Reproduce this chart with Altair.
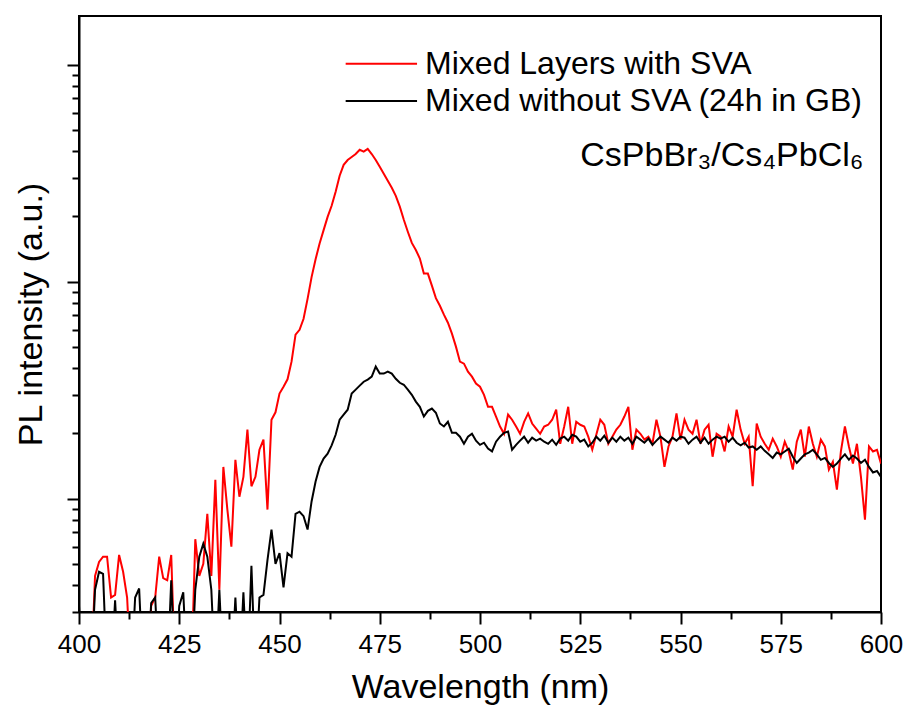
import altair as alt
import pandas as pd

# ---------------- data ----------------
wavelength = list(range(400, 601))

series_names = ["Mixed Layers with SVA", "Mixed without SVA (24h in GB)"]
series_colors = ["#ff0000", "#000000"]

red_sva = [
    1.5, 1.5, 1.5, 1.5, 4.4, 5.1, 5.4, 5.4, 3.5, 3.6,
    5.5, 4.6, 3.5, 1.5, 1.5, 1.5, 1.5, 1.5, 3.2, 3.5,
    5.4, 4.3, 4.2, 5.5, 1.5, 1.5, 1.5, 1.5, 1.5, 6.5,
    4.4, 5.0, 8.5, 4.4, 12.2, 3.8, 14.0, 8.9, 6.0, 15.1,
    10.2, 12.6, 20.8, 11.4, 12.6, 16.8, 18.7, 8.9, 23.1, 25.0,
    30.5, 32.8, 35.5, 42.8, 57, 60, 67.5, 83.4, 105, 127,
    150, 173, 199, 224, 260, 308, 346, 364, 376, 388,
    406, 398, 410, 388, 364, 339, 315, 292, 271, 249,
    222, 193, 170, 151, 140, 128, 109, 109, 96, 84,
    77.5, 70.5, 64.7, 57.6, 50.2, 42.8, 41.9, 38.5, 36.5, 33.9,
    32.8, 30.1, 26.5, 26.5, 23.9, 21.5, 19.9, 24.4, 23.1, 21.5,
    19.9, 22.6, 24.7, 22.2, 21.0, 19.9, 21.5, 21.9, 23.1, 25.7,
    17.9, 21.5, 26.5, 17.9, 22.6, 21.9, 21.5, 19.3, 16.8, 19.7,
    23.1, 21.9, 17.9, 19.3, 20.8, 21.9, 23.9, 26.5, 16.8, 20.8,
    19.9, 18.7, 19.3, 17.9, 23.1, 19.3, 14.0, 17.4, 19.3, 24.7,
    18.7, 23.1, 20.8, 19.9, 23.1, 17.9, 20.8, 21.9, 15.6, 19.9,
    19.3, 16.5, 21.5, 19.3, 25.7, 20.8, 17.9, 19.3, 11.4, 22.2,
    19.3, 17.9, 16.8, 18.9, 17.4, 15.6, 18.3, 16.5, 13.6, 18.3,
    20.8, 15.6, 21.5, 17.9, 15.6, 18.7, 17.4, 13.6, 14.8, 11.0,
    16.5, 21.5, 17.4, 14.5, 17.9, 12.6, 8.0, 17.4, 16.5, 16.8,
    14.5,
]

black_nosva = [
    3.2, 1.5, 1.5, 1.5, 3.8, 4.6, 4.5, 1.5, 1.5, 3.4,
    1.5, 1.5, 1.5, 1.5, 3.5, 3.85, 1.5, 1.5, 3.3, 3.5,
    1.5, 1.5, 1.5, 4.2, 1.5, 3.2, 3.7, 1.5, 1.5, 3.8,
    5.4, 6.2, 5.4, 3.8, 1.5, 3.8, 1.5, 1.5, 1.5, 3.5,
    1.5, 3.7, 1.5, 4.9, 1.5, 3.5, 3.6, 5.2, 7.2, 5.0,
    5.6, 3.9, 5.6, 5.4, 8.5, 8.7, 8.3, 7.2, 9.7, 12.0,
    14.0, 15.3, 16.1, 17.6, 19.7, 23.1, 24.4, 25.7, 30.5, 31.8,
    33.2, 34.6, 35.4, 36.5, 40.6, 37.7, 37.7, 38.5, 37.7, 35.7,
    34.2, 33.5, 31.8, 30.1, 28.0, 26.5, 23.9, 25.4, 26.0, 24.9,
    22.2, 21.5, 22.6, 20.1, 20.1, 19.3, 17.9, 19.3, 19.9, 18.5,
    17.7, 18.1, 17.0, 16.5, 18.3, 19.3, 20.1, 20.4, 16.8, 17.7,
    18.5, 19.3, 18.1, 19.1, 18.5, 18.9, 18.3, 17.9, 18.7, 17.7,
    18.9, 19.3, 18.5, 19.7, 19.3, 18.3, 18.7, 17.4, 18.1, 19.3,
    18.5, 19.5, 18.1, 19.1, 18.3, 19.3, 18.5, 19.1, 17.9, 19.3,
    18.7, 18.1, 18.9, 17.7, 18.5, 19.3, 18.7, 18.1, 19.1, 18.5,
    19.3, 19.1, 17.9, 18.7, 19.3, 18.1, 19.1, 17.9, 18.7, 19.3,
    18.9, 19.3, 18.3, 19.1, 18.1, 17.6, 18.1, 17.2, 17.4, 16.8,
    17.4, 16.6, 16.0, 15.4, 16.3, 16.0, 16.5, 17.0, 15.6, 14.6,
    15.3, 16.0, 16.3, 16.8, 16.0, 15.1, 15.4, 14.6, 14.0, 14.5,
    15.3, 16.0, 15.1, 15.8, 15.3, 14.6, 15.1, 14.0, 13.2, 13.4,
    12.6,
]

x_major = [400, 425, 450, 475, 500, 525, 550, 575, 600]
x_minor = [412.5, 437.5, 462.5, 487.5, 512.5, 537.5, 562.5, 587.5]
y_major = [10, 100, 1000]
y_minor = [3, 4, 5, 6, 7, 8, 9, 20, 30, 40, 50, 60, 70, 80, 90,
           200, 300, 400, 500, 600, 700, 800, 900]

# in-plot legend (placed in data coordinates, as in the reference)
legend_x0 = [466.5, 466.5]
legend_x1 = [484.3, 484.3]
legend_text_x = [486.3, 486.3]
legend_y = [1012, 682]

compound_label = "CsPbBr₃/Cs₄PbCl₆"
compound_pos = {"wl": [525], "I": [380]}

# ---------------- build ----------------
df = pd.concat([
    pd.DataFrame({"wl": wavelength, "I": red_sva, "s": series_names[0]}),
    pd.DataFrame({"wl": wavelength, "I": black_nosva, "s": series_names[1]}),
], ignore_index=True)

leg = pd.DataFrame({"s": series_names, "x0": legend_x0, "x1": legend_x1,
                    "xt": legend_text_x, "y": legend_y})

FONT = "Liberation Sans"
xscale = alt.Scale(domain=[400, 600], nice=False, zero=False)
yscale = alt.Scale(type="log", domain=[3, 1680], nice=False)
cscale = alt.Scale(domain=series_names, range=series_colors)

lines = alt.Chart(df).mark_line(strokeWidth=2, clip=True).encode(
    x=alt.X("wl:Q", scale=xscale, axis=alt.Axis(
        orient="bottom", values=x_major, tickSize=12, tickWidth=2,
        labelFontSize=26, labelPadding=7, labelFont=FONT, labelColor="#000",
        labelFlush=False,
        title="Wavelength (nm)", titleFontSize=34, titleFont=FONT,
        titleFontWeight="normal", titlePadding=13, titleColor="#000",
        grid=False, domainColor="#000", domainWidth=2, tickColor="#000")),
    y=alt.Y("I:Q", scale=yscale, axis=alt.Axis(
        orient="left", values=y_major, tickSize=12, tickWidth=2, labels=False,
        title="PL intensity (a.u.)", titleFontSize=34, titleFont=FONT,
        titleFontWeight="normal", titlePadding=18, titleColor="#000",
        grid=False, domainColor="#000", domainWidth=2, tickColor="#000")),
    color=alt.Color("s:N", sort=series_names, scale=cscale, legend=None),
    detail="s:N",
)

minor = alt.Chart(df).mark_line(opacity=0).encode(
    x=alt.X("wl:Q", scale=xscale, axis=alt.Axis(
        orient="bottom", values=x_minor, tickSize=7, tickWidth=2,
        labels=False, domain=False, title=None, grid=False, tickColor="#000")),
    y=alt.Y("I:Q", scale=yscale, axis=alt.Axis(
        orient="left", values=y_minor, tickSize=7, tickWidth=2,
        labels=False, domain=False, title=None, grid=False, tickColor="#000")),
    detail="s:N",
)

leg_lines = alt.Chart(leg).mark_rule(strokeWidth=2).encode(
    x=alt.X("x0:Q", scale=xscale, axis=None),
    x2="x1:Q",
    y=alt.Y("y:Q", scale=yscale, axis=None),
    color=alt.Color("s:N", scale=cscale, legend=None),
)

leg_text = alt.Chart(leg).mark_text(
    align="left", baseline="middle", fontSize=32, font=FONT, color="#000"
).encode(
    x=alt.X("xt:Q", scale=xscale, axis=None),
    y=alt.Y("y:Q", scale=yscale, axis=None),
    text="s:N",
)

text = alt.Chart(pd.DataFrame({**compound_pos, "t": [compound_label]})).mark_text(
    align="left", baseline="middle", fontSize=34, font=FONT, color="#000"
).encode(
    x=alt.X("wl:Q", scale=xscale, axis=None),
    y=alt.Y("I:Q", scale=yscale, axis=None),
    text="t:N",
)

chart = alt.layer(lines, minor, leg_lines, leg_text, text).resolve_axis(
    x="independent", y="independent"
).properties(
    width=802, height=596,
    autosize=alt.AutoSizeParams(type="none"),
    padding={"left": 71, "top": 8, "right": 22, "bottom": 96},
).configure_view(stroke="#000", strokeWidth=2)

chart.save("out.html", embed_options={"renderer": "svg", "actions": False})
